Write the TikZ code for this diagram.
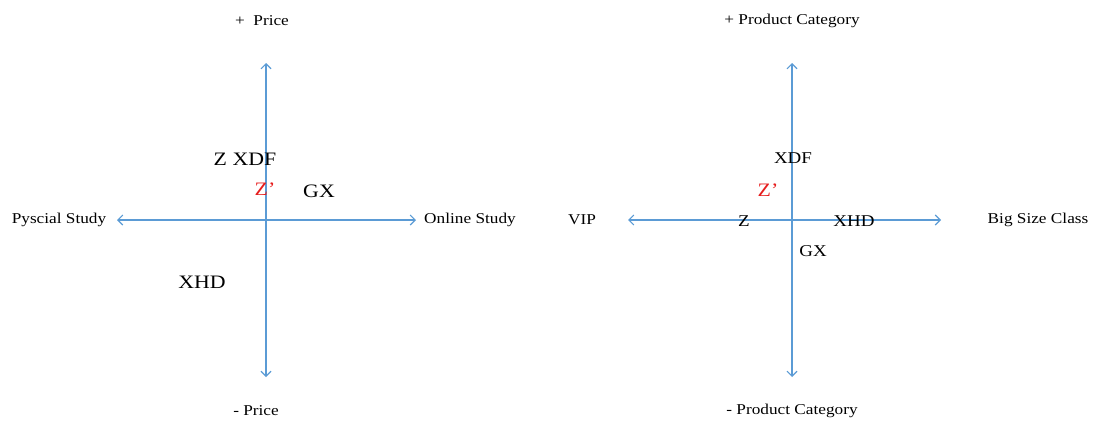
\documentclass[tikz,border=0pt]{standalone}
\usepackage{fontspec}
\setmainfont{Liberation Serif}[FakeStretch=1.15]
\usetikzlibrary{arrows.meta}
\definecolor{axisblue}{RGB}{91,155,213}
\definecolor{zred}{RGB}{230,30,30}
\begin{document}
\begin{tikzpicture}[x=1pt,y=-1pt,
  axis/.style={draw=axisblue, line width=1.1pt, {Straight Barb[length=5pt,width=10pt]}-{Straight Barb[length=5pt,width=10pt]}},
  lab/.style={font=\fontsize{15}{17}\selectfont, inner sep=0pt},
  pt/.style={font=\fontsize{19}{21}\selectfont, inner sep=0pt},
  pts/.style={font=\fontsize{16.5}{19}\selectfont, inner sep=0pt}]
\useasboundingbox (0,0) rectangle (1094,421);
% left chart
\coordinate (lt) at (266,63);
\coordinate (lb) at (266,377);
\coordinate (ll) at (117,220);
\coordinate (lr) at (416,220);
\draw[axis] (lt) -- (lb);
\draw[axis] (ll) -- (lr);
\node[lab] (lpp) at (262,21) {+\ \ Price};
\node[lab] (lmp) at (256,411) {- Price};
\node[lab] (lps) at (59,220) {Pyscial Study};
\node[lab] (los) at (470,220) {Online Study};
\node[pt] (lzx) at (245,159) {Z XDF};
\node[pt, text=zred] (lzp) at (265,189) {Z’};
\node[pt] (lgx) at (319,191) {GX};
\node[pt] (lxhd) at (202,282) {XHD};
% right chart
\coordinate (rt) at (792,63);
\coordinate (rb) at (792,377);
\coordinate (rl) at (628,220);
\coordinate (rr) at (941,220);
\draw[axis] (rt) -- (rb);
\draw[axis] (rl) -- (rr);
\node[lab] (rpc) at (792,21) {+ Product Category};
\node[lab] (rmc) at (792,411) {- Product Category};
\node[lab] (rvip) at (582,220) {VIP};
\node[lab] (rbig) at (1038,220) {Big Size Class};
\node[pts] (rxdf) at (793,158) {XDF};
\node[pt, text=zred] (rzp) at (768,190) {Z’};
\node[pts] (rz) at (744,221) {Z};
\node[pts] (rxhd) at (854,221) {XHD};
\node[pts] (rgx) at (813,251) {GX};
\end{tikzpicture}
\end{document}
